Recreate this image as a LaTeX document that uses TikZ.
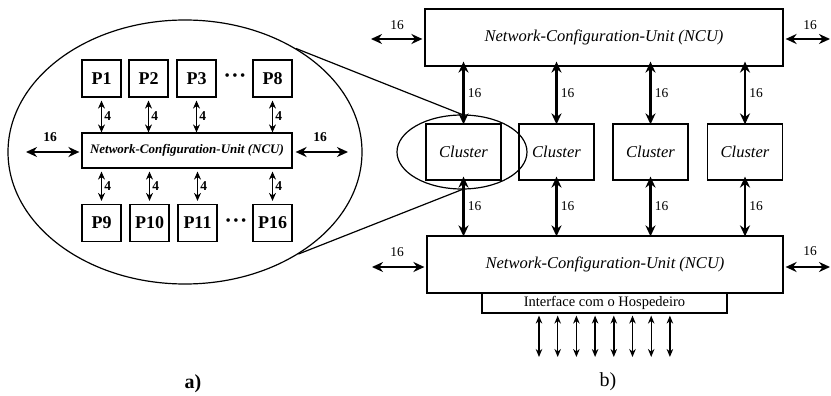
\documentclass[tikz,border=0pt]{standalone}
\usepackage{fontspec}
\setmainfont{Liberation Serif}
\usetikzlibrary{arrows.meta,shapes.geometric}

\tikzset{
  box/.style={draw, line width=1.2pt, inner sep=0pt, align=center},
  pbox/.style={box, minimum width=39pt, minimum height=37pt,
    font=\fontsize{18}{20}\selectfont\bfseries},
  clbox/.style={box, minimum width=75pt, minimum height=56pt,
    font=\fontsize{16.5}{18}\selectfont\itshape},
  ncubox/.style={box, minimum height=57pt,
    font=\fontsize{16.5}{18}\selectfont\itshape},
  bus/.style={line width=2.8pt, {Stealth[length=11pt,width=10pt]}-{Stealth[length=11pt,width=10pt]}},
  pbus/.style={line width=1.8pt, {Stealth[length=8pt,width=7pt]}-{Stealth[length=8pt,width=7pt]}},
  hostline/.style={line width=1.4pt, {Stealth[length=8pt,width=6.5pt]}-{Stealth[length=8pt,width=6.5pt]}},
  lbl/.style={font=\fontsize{13.5}{15}\selectfont, inner sep=1pt},
  plbl/.style={font=\fontsize{13.5}{14}\selectfont\bfseries, inner sep=1pt},
  dots/.style={font=\fontsize{15}{16}\selectfont},
  caption/.style={font=\fontsize{20}{22}\selectfont},
  zoomring/.style={draw, line width=1.2pt, ellipse, inner sep=0pt},
  link/.style={line width=1.2pt},
}

\begin{document}
\begin{tikzpicture}[x=1pt, y=-1pt]
\useasboundingbox (0,0) rectangle (831,396);

% ---------- a) one cluster: 16 processors around an NCU ----------
\node[zoomring, minimum width=354pt, minimum height=264pt] (bigring) at (185,152) {};

\node[pbox] (p1)  at (101.5,78.5) {P1};
\node[pbox] (p2)  at (148.5,78.5) {P2};
\node[pbox] (p3)  at (196.5,78.5) {P3};
\node[pbox] (p8)  at (272.5,78.5) {P8};
\node[dots] (d1)  at (235,77) {\textbullet\,\textbullet\,\textbullet};

\node[pbox] (p9)  at (101.5,223) {P9};
\node[pbox] (p10) at (149.5,223) {P10};
\node[pbox] (p11) at (197.5,223) {P11};
\node[pbox] (p16) at (272.5,223) {P16};
\node[dots] (d2)  at (236,222) {\textbullet\,\textbullet\,\textbullet};

\node[box, minimum width=210pt, minimum height=35pt,
  font=\fontsize{13}{14}\selectfont\bfseries\itshape] (ncus) at (187,150.5)
  {Network-Configuration-Unit (NCU)};

\foreach \p in {p1,p2,p3,p8}{
  \draw[pbus] ([yshift=-3pt]\p.south) -- (\p.south |- ncus.north)
    node[plbl, midway, right=1pt] {4};
}
\foreach \p in {p9,p10,p11,p16}{
  \draw[pbus] (\p.north |- ncus.south) ++(0,3) coordinate (\p top)
    (\p top) -- ([yshift=3pt]\p.north)
    node[plbl, midway, right=1pt] {4};
}

\coordinate (sl) at (26,152);
\coordinate (sr) at (348,152);
\draw[bus] (sl) -- ([xshift=-2pt]ncus.west |- sl);
\draw[bus] (sr) -- ([xshift=3pt]ncus.east |- sr);
\node[lbl, font=\fontsize{13.5}{15}\selectfont\bfseries] (sl16) at (50,137) {16};
\node[lbl, font=\fontsize{13.5}{15}\selectfont\bfseries] (sr16) at (320,137) {16};

\node[caption, font=\fontsize{20}{22}\selectfont\bfseries] (capa) at (193,384) {a)};

% ---------- b) four clusters between two NCUs ----------
\node[ncubox, minimum width=358pt] (ncut) at (604,37.5) {Network-Configuration-Unit (NCU)};
\node[ncubox, minimum width=356pt] (ncub) at (605,264.5) {Network-Configuration-Unit (NCU)};
\node[box, minimum width=245pt, minimum height=20pt,
  font=\fontsize{14.5}{15}\selectfont] (host) at (604.5,303) {Interface com o Hospedeiro};

\node[clbox] (c1) at (463.5,152) {Cluster};
\node[clbox] (c2) at (556.5,152) {Cluster};
\node[clbox] (c3) at (650.5,152) {Cluster};
\node[clbox] (c4) at (745,152)   {Cluster};

\foreach \c in {c1,c2,c3,c4}{
  \draw[bus] ([yshift=5pt]\c.north |- ncut.south) -- ([yshift=-1pt]\c.north)
    node[lbl, midway, right=2pt] {16};
  \draw[bus] ([yshift=4pt]\c.south) -- ([yshift=-1pt]\c.south |- ncub.north)
    node[lbl, midway, right=2pt] {16};
}

% external links of both NCUs
\coordinate (tl) at (371,39);
\coordinate (tr) at (830,39);
\coordinate (bl) at (372,267);
\coordinate (br) at (830,267);
\draw[bus] (tl) -- ([xshift=-2pt]ncut.west |- tl);
\draw[bus] (tr) -- ([xshift=2pt]ncut.east |- tr);
\draw[bus] (bl) -- ([xshift=-2pt]ncub.west |- bl);
\draw[bus] (br) -- ([xshift=2pt]ncub.east |- br);
\node[lbl] (tl16) at (397,25) {16};
\node[lbl] (tr16) at (810,25) {16};
\node[lbl] (bl16) at (397,252) {16};
\node[lbl] (br16) at (810,251) {16};

% host lines
\foreach \i in {0,...,7}{
  \coordinate (h\i) at ({539+18.7*\i},357);
  \draw[hostline] (host.south -| h\i) ++(0,2) coordinate (ht\i) (ht\i) -- (h\i);
}

\node[caption] (capb) at (608,382) {b)};

% zoom ring around the first cluster
\node[zoomring, minimum width=130pt, minimum height=74pt] (smallring) at (462,152) {};
\draw[link] (bigring.43) -- (smallring.north);
\draw[link] (bigring.-42) -- (smallring.south);
\end{tikzpicture}
\end{document}
